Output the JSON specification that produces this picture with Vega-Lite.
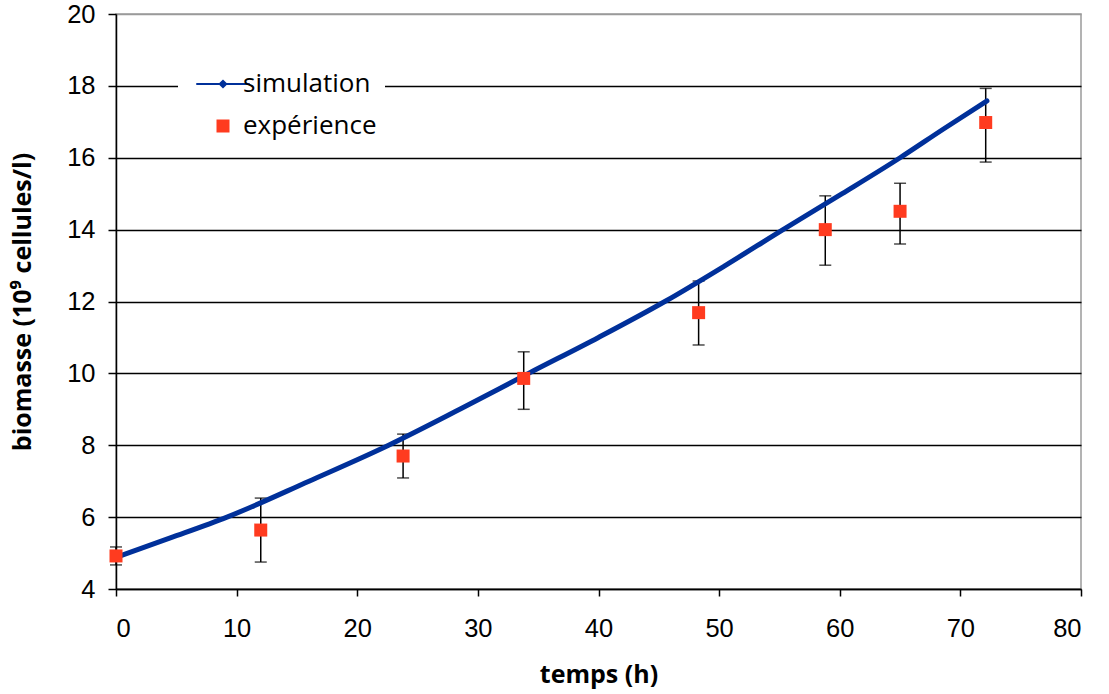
{
  "$schema": "https://vega.github.io/schema/vega-lite/v6.json",
  "autosize": {"type": "none"},
  "width": 965,
  "height": 575,
  "padding": {"left": 116, "top": 14, "right": 28, "bottom": 105},
  "background": "white",
  "config": {
    "view": {"stroke": "#9a9a9a", "strokeWidth": 1.5},
    "axis": {
      "labelFont": "Liberation Sans", "labelFontSize": 25.5, "labelColor": "black",
      "titleFont": "Open Sans", "titleFontWeight": "bold", "titleFontSize": 25, "titleColor": "black",
      "domainColor": "black", "domainWidth": 1.5, "tickColor": "black", "tickWidth": 1.5
    }
  },
  "datasets": {
    "sim": [
      {"temps": 0, "biomasse": 4.88, "serie": "simulation"},
      {"temps": 4.5, "biomasse": 5.42, "serie": "simulation"},
      {"temps": 9.2, "biomasse": 6.0, "serie": "simulation"},
      {"temps": 16, "biomasse": 7.0, "serie": "simulation"},
      {"temps": 22.6, "biomasse": 8.0, "serie": "simulation"},
      {"temps": 28.5, "biomasse": 9.0, "serie": "simulation"},
      {"temps": 34.2, "biomasse": 10.0, "serie": "simulation"},
      {"temps": 40, "biomasse": 11.0, "serie": "simulation"},
      {"temps": 45.5, "biomasse": 12.0, "serie": "simulation"},
      {"temps": 50.5, "biomasse": 13.0, "serie": "simulation"},
      {"temps": 55.3, "biomasse": 14.0, "serie": "simulation"},
      {"temps": 60.2, "biomasse": 15.0, "serie": "simulation"},
      {"temps": 65, "biomasse": 16.0, "serie": "simulation"},
      {"temps": 68.6, "biomasse": 16.8, "serie": "simulation"},
      {"temps": 72.2, "biomasse": 17.58, "serie": "simulation"}
    ],
    "exp": [
      {"temps": 0, "biomasse": 4.92, "bas": 4.67, "haut": 5.17, "serie": "expérience"},
      {"temps": 12, "biomasse": 5.64, "bas": 4.75, "haut": 6.53, "serie": "expérience"},
      {"temps": 23.8, "biomasse": 7.7, "bas": 7.09, "haut": 8.31, "serie": "expérience"},
      {"temps": 33.8, "biomasse": 9.86, "bas": 9.0, "haut": 10.6, "serie": "expérience"},
      {"temps": 48.3, "biomasse": 11.69, "bas": 10.79, "haut": 12.57, "serie": "expérience"},
      {"temps": 58.8, "biomasse": 14.0, "bas": 13.01, "haut": 14.94, "serie": "expérience"},
      {"temps": 65, "biomasse": 14.51, "bas": 13.6, "haut": 15.29, "serie": "expérience"},
      {"temps": 72.1, "biomasse": 16.98, "bas": 15.88, "haut": 17.93, "serie": "expérience"}
    ]
  },
  "layer": [
    {
      "data": {"name": "exp"},
      "mark": {"type": "errorbar", "color": "black", "thickness": 1.5, "ticks": {"size": 12, "color": "black", "thickness": 1.5}},
      "encoding": {
        "x": {"field": "temps", "type": "quantitative", "scale": {"domain": [0, 80], "nice": false},
              "axis": {"values": [0, 10, 20, 30, 40, 50, 60, 70, 80], "title": "temps (h)", "grid": false, "tickSize": 7, "labelPadding": 20, "titlePadding": 21}},
        "y": {"field": "bas", "type": "quantitative", "scale": {"domain": [4, 20], "nice": false},
              "axis": {"values": [4, 6, 8, 10, 12, 14, 16, 18, 20], "title": "biomasse (10⁹ cellules/l)", "grid": true,
                       "gridColor": {"condition": {"test": "datum.value == 20", "value": "#9a9a9a"}, "value": "black"},
                       "gridWidth": 1.5, "tickSize": 8, "labelPadding": 13, "titlePadding": 31}},
        "y2": {"field": "haut"}
      }
    },
    {
      "data": {"name": "sim"},
      "mark": {"type": "line", "strokeWidth": 5, "strokeCap": "round", "interpolate": "monotone"},
      "encoding": {
        "x": {"field": "temps", "type": "quantitative"},
        "y": {"field": "biomasse", "type": "quantitative"},
        "color": {"field": "serie", "type": "nominal",
                  "scale": {"domain": ["simulation", "expérience"], "range": ["#00309A", "#FF3B1F"]},
                  "legend": {
                    "title": null, "orient": "none", "legendX": 62, "legendY": 49,
                    "fillColor": "white", "padding": 8, "rowPadding": 16,
                    "labelFont": "Open Sans", "labelFontSize": 26, "labelColor": "black", "labelOffset": 7,
                    "symbolSize": 169, "symbolOffset": 24,
                    "encode": {
                      "symbols": {
                        "update": {
                          "shape": {"signal": "datum.value == 'simulation' ? 'M-1,0L1,0M-0.12,0L0,-0.12L0.12,0L0,0.12Z' : 'square'"},
                          "size": {"signal": "datum.value == 'simulation' ? 2860 : 169"},
                          "fill": {"signal": "datum.value == 'simulation' ? '#00309A' : '#FF3B1F'"},
                          "stroke": {"signal": "datum.value == 'simulation' ? '#00309A' : '#FF3B1F'"},
                          "strokeWidth": {"signal": "datum.value == 'simulation' ? 2 : 0"},
                          "opacity": {"value": 1}
                        }
                      }
                    }
                  }}
      }
    },
    {
      "data": {"name": "exp"},
      "mark": {"type": "square", "size": 169, "opacity": 1, "filled": true},
      "encoding": {
        "x": {"field": "temps", "type": "quantitative"},
        "y": {"field": "biomasse", "type": "quantitative"},
        "color": {"field": "serie", "type": "nominal"}
      }
    }
  ]
}
